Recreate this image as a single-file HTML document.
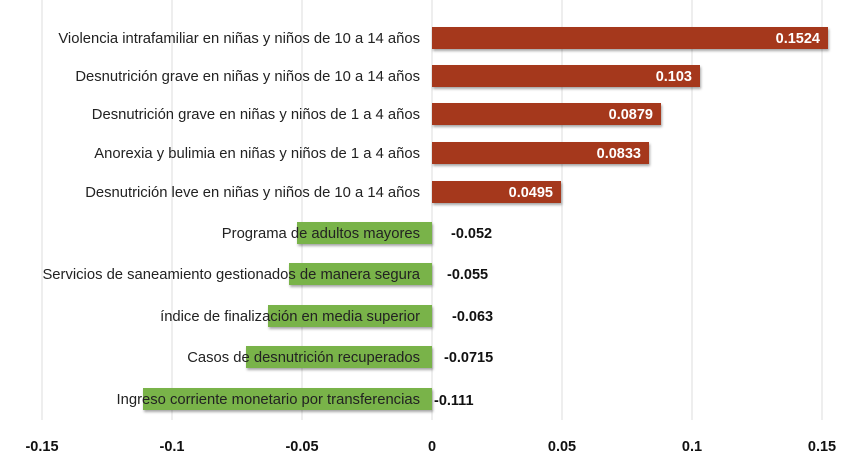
<!DOCTYPE html><html><head><style>body{margin:0;background:#fff}svg{display:block;font-family:"Liberation Sans",sans-serif}</style></head><body>
<svg width="866" height="467" xmlns="http://www.w3.org/2000/svg">
<defs><filter id="s" x="-5%" y="-20%" width="110%" height="160%"><feDropShadow dx="1" dy="2" stdDeviation="1.2" flood-color="#000" flood-opacity="0.35"/></filter></defs>
<g stroke="#dcdcdc" stroke-width="1">
<line x1="42" y1="0" x2="42" y2="420"/><line x1="172" y1="0" x2="172" y2="420"/><line x1="302" y1="0" x2="302" y2="420"/><line x1="432" y1="0" x2="432" y2="420"/><line x1="562" y1="0" x2="562" y2="420"/><line x1="692" y1="0" x2="692" y2="420"/><line x1="822" y1="0" x2="822" y2="420"/></g>
<g filter="url(#s)" fill="#a5371f">
<rect x="432" y="27" width="396" height="22"/><rect x="432" y="65" width="268" height="22"/><rect x="432" y="103" width="229" height="22"/><rect x="432" y="142" width="217" height="22"/><rect x="432" y="181" width="129" height="22"/></g>
<g filter="url(#s)" fill="#79b34a">
<rect x="297" y="222" width="135" height="22"/><rect x="289" y="263" width="143" height="22"/><rect x="268" y="305" width="164" height="22"/><rect x="246" y="346" width="186" height="22"/><rect x="143" y="388" width="289" height="22"/></g>
<g font-size="14.8" fill="#222" text-anchor="end">
<text x="420" y="43">Violencia intrafamiliar en niñas y niños de 10 a 14 años</text>
<text x="420" y="81">Desnutrición grave en niñas y niños de 10 a 14 años</text>
<text x="420" y="119">Desnutrición grave en niñas y niños de 1 a 4 años</text>
<text x="420" y="158">Anorexia y bulimia en niñas y niños de 1 a 4 años</text>
<text x="420" y="197">Desnutrición leve en niñas y niños de 10 a 14 años</text>
<text x="420" y="238">Programa de adultos mayores</text>
<text x="420" y="279">Servicios de saneamiento gestionados de manera segura</text>
<text x="420" y="321">índice de finalización en media superior</text>
<text x="420" y="362">Casos de desnutrición recuperados</text>
<text x="420" y="404">Ingreso corriente monetario por transferencias</text></g>
<g font-size="14.5" fill="#fff" font-weight="bold" text-anchor="end">
<text x="820" y="43">0.1524</text><text x="692" y="81">0.103</text><text x="653" y="119">0.0879</text><text x="641" y="158">0.0833</text><text x="553" y="197">0.0495</text></g>
<g font-size="14.5" fill="#111" font-weight="bold">
<text x="451" y="238">-0.052</text><text x="447" y="279">-0.055</text><text x="452" y="321">-0.063</text><text x="444" y="362">-0.0715</text><text x="434" y="405">-0.111</text></g>
<g font-size="14.5" fill="#111" font-weight="bold" text-anchor="middle">
<text x="42" y="451">-0.15</text><text x="172" y="451">-0.1</text><text x="302" y="451">-0.05</text><text x="432" y="451">0</text><text x="562" y="451">0.05</text><text x="692" y="451">0.1</text><text x="822" y="451">0.15</text></g>
</svg></body></html>
